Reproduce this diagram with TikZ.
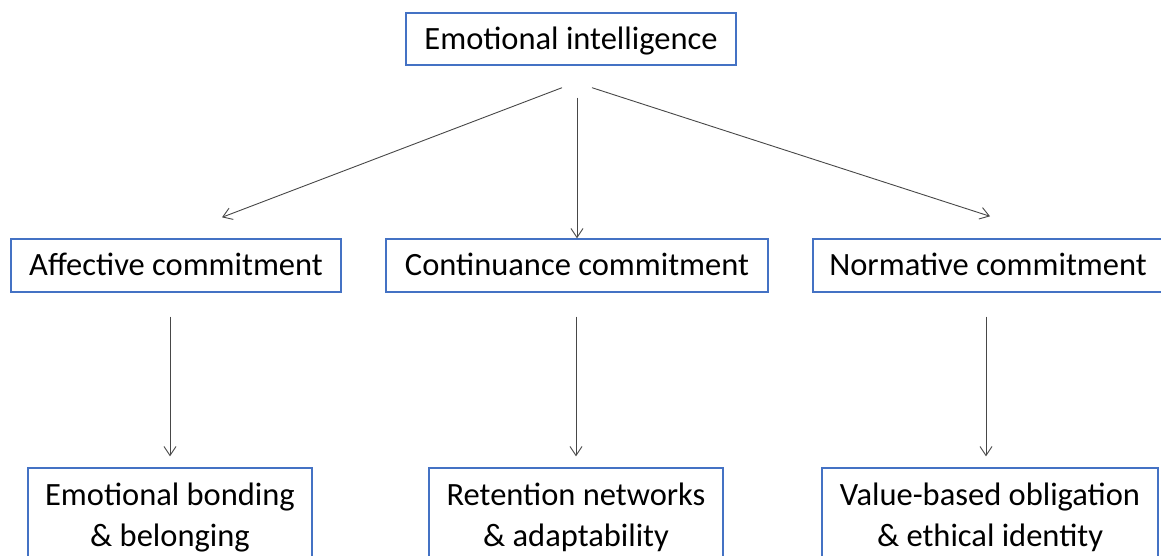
\documentclass[tikz,border=0pt]{standalone}
\usepackage{fontspec}
\setmainfont{Carlito}
\usepackage{tikz}
\usetikzlibrary{arrows.meta,positioning,calc}

\definecolor{boxblue}{HTML}{4472C4}

\begin{document}
\begin{tikzpicture}[
  x=1pt, y=-1pt,
  font=\fontsize{32.5}{41}\selectfont,
  >=Latex,
  topbox/.style={draw=boxblue, line width=1.4pt, align=center, minimum width=330pt, minimum height=52pt, inner sep=0pt, text height=24pt, text depth=2pt},
  midbox/.style={draw=boxblue, line width=1.4pt, align=center, minimum height=53pt, inner sep=0pt, text height=24pt, text depth=5pt},
  lowbox/.style={draw=boxblue, line width=1.4pt, align=center, minimum height=99pt, inner sep=0pt},
  arr/.style={-{Straight Barb[length=9pt,width=12pt]}, draw=black!72, line width=0.9pt}
]
\useasboundingbox (0,0) rectangle (1161,556);
\node[topbox] (ei) at (571,39) {Emotional intelligence};
\node[midbox, minimum width=330pt] (ac) at (176,265.5) {Affective commitment};
\node[midbox, minimum width=382pt] (cc) at (577,265.5) {Continuance commitment};
\node[midbox, minimum width=350pt] (nc) at (988,265.5) {Normative commitment};
\node[lowbox, minimum width=284pt] (eb) at (170,517.5) {Emotional bonding\\\& belonging};
\node[lowbox, minimum width=294pt] (rn) at (576,517.5) {Retention networks\\\& adaptability};
\node[lowbox, minimum width=336pt] (vb) at (990,517.5) {Value-based obligation\\\& ethical identity};
\draw[arr] ($(ei.south)+(-9,22)$) -- ($(ac.north)+(46,-21)$);
\draw[arr, shorten <=32pt] (cc.north |- ei.south) -- (cc.north);
\draw[arr] ($(ei.south)+(21,22)$) -- ($(nc.north)+(2,-22)$);
\draw[arr, shorten <=24pt, shorten >=11pt] (eb.north |- ac.south) -- (eb.north);
\draw[arr, shorten <=24pt, shorten >=11pt] (rn.north |- cc.south) -- (rn.north);
\draw[arr, shorten <=24pt, shorten >=11pt] ([xshift=-4pt]vb.north |- nc.south) -- ([xshift=-4pt]vb.north);
\end{tikzpicture}
\end{document}
